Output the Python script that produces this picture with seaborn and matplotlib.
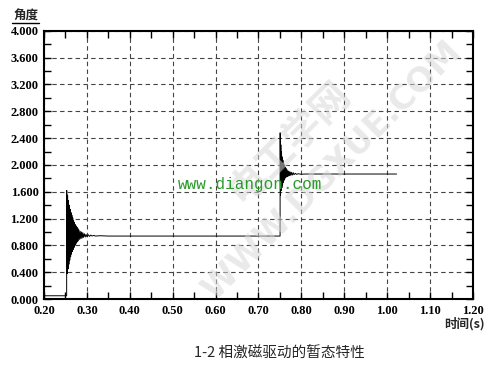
import numpy as np
import pandas as pd
import matplotlib
matplotlib.use("Agg")
import matplotlib.pyplot as plt
from matplotlib.lines import Line2D
from matplotlib.ticker import MultipleLocator, FormatStrFormatter
import seaborn as sns

# ---------------- data ----------------
pre_time = [0.200, 0.2528]
pre_angle = [0.05, 0.05]

burst1_time = [0.2530, 0.2540, 0.2550, 0.2560, 0.2570, 0.2580, 0.2590, 0.2600,
               0.2610, 0.2620, 0.2630, 0.2640, 0.2650, 0.2660, 0.2670, 0.2680,
               0.2690, 0.2700, 0.2710, 0.2720, 0.2730, 0.2740, 0.2750, 0.2760,
               0.2770, 0.2780, 0.2790, 0.2800, 0.2815, 0.2830, 0.2845, 0.2860,
               0.2875, 0.2890, 0.2905, 0.2920, 0.2940, 0.2960, 0.2980, 0.3000,
               0.3030, 0.3060, 0.3090, 0.3120, 0.3160, 0.3200, 0.3300, 0.3500]
burst1_angle = [1.62, 0.38, 1.55, 0.45, 1.47, 0.52, 1.40, 0.58,
                1.34, 0.63, 1.29, 0.67, 1.25, 0.71, 1.21, 0.74,
                1.17, 0.77, 1.14, 0.80, 1.11, 0.82, 1.09, 0.84,
                1.07, 0.86, 1.05, 0.87, 1.03, 0.89, 1.01, 0.90,
                1.00, 0.91, 0.99, 0.92, 0.975, 0.925, 0.965, 0.93,
                0.96, 0.935, 0.955, 0.94, 0.95, 0.94, 0.945, 0.94]

hold_time = [0.7503]
hold_angle = [0.94]

burst2_time = [0.7505, 0.7513, 0.7521, 0.7529, 0.7537, 0.7545, 0.7553, 0.7561,
               0.7569, 0.7577, 0.7585, 0.7593, 0.7601, 0.7610, 0.7620, 0.7630,
               0.7640, 0.7650, 0.7662, 0.7674, 0.7686, 0.7698, 0.7712, 0.7726,
               0.7740, 0.7755, 0.7770, 0.7790, 0.7810, 0.7830, 0.7860, 0.7890,
               0.7930, 0.7980, 0.8100]
burst2_angle = [2.48, 1.55, 2.30, 1.62, 2.20, 1.66, 2.12, 1.70,
                2.07, 1.74, 2.03, 1.77, 2.00, 1.79, 1.97, 1.81,
                1.95, 1.82, 1.93, 1.83, 1.915, 1.835, 1.905, 1.84,
                1.895, 1.845, 1.89, 1.85, 1.885, 1.855, 1.875, 1.86,
                1.87, 1.862, 1.865]

tail_time = [1.022]
tail_angle = [1.865]

x_ticks = [0.20, 0.30, 0.40, 0.50, 0.60, 0.70, 0.80, 0.90, 1.00, 1.10, 1.20]
y_ticks = [0.0, 0.4, 0.8, 1.2, 1.6, 2.0, 2.4, 2.8, 3.2, 3.6, 4.0]

df = pd.DataFrame({
    "time": pre_time + burst1_time + hold_time + burst2_time + tail_time,
    "angle": pre_angle + burst1_angle + hold_angle + burst2_angle + tail_angle,
})

# ---------------- figure ----------------
sns.set_theme(style="white")
plt.rcParams["font.family"] = ["Liberation Serif", "Noto Sans CJK SC", "DejaVu Sans"]

fig = plt.figure(figsize=(5.0, 3.67), dpi=100)
ax = fig.add_axes([0.088, 0.185, 0.858, 0.731])

# watermarks (behind everything)
fig.text(0.578, 0.615, "电工学网", rotation=45,
         fontsize=28, color="#d8d8d8", alpha=0.55, ha="center", va="center",
         family=["Noto Sans CJK SC"], fontweight="bold", zorder=0)
fig.text(0.665, 0.535, "WWW.DGXUE.COM", rotation=45, fontsize=24,
         color="#d8d8d8", alpha=0.55, ha="center", va="center",
         family=["DejaVu Sans"], fontweight="bold", zorder=0)
ax.patch.set_alpha(0.0)

sns.lineplot(data=df, x="time", y="angle", estimator=None, sort=False,
             color="black", linewidth=0.7, ax=ax)

ax.set_xlim(x_ticks[0], x_ticks[-1])
ax.set_ylim(y_ticks[0], y_ticks[-1])
ax.set_xticks(x_ticks)
ax.set_yticks(y_ticks)
ax.xaxis.set_major_formatter(FormatStrFormatter("%.2f"))
ax.yaxis.set_major_formatter(FormatStrFormatter("%.3f"))
ax.xaxis.set_minor_locator(MultipleLocator(0.05))
ax.yaxis.set_minor_locator(MultipleLocator(0.2))

ax.tick_params(axis="both", which="both", direction="in", colors="black",
               top=True, right=True, bottom=True, left=True)
ax.tick_params(which="major", length=5, width=1.0, labelsize=9, pad=4)
ax.tick_params(which="minor", length=5, width=1.0)
for lab in ax.get_xticklabels() + ax.get_yticklabels():
    lab.set_fontweight("bold")

ax.grid(True, which="major", linestyle=(0, (4, 3)), color="#444444", linewidth=0.8)
for sp in ax.spines.values():
    sp.set_color("black")
    sp.set_linewidth(1.5)

ax.set_xlabel("")
ax.set_ylabel("")

fig.text(0.356, 0.498, "www.diangon.com", fontsize=11.5, color="#2a9a2a",
         ha="left", va="center", family=["Liberation Mono"])

# axis titles
fig.text(0.052, 0.955, "角度", fontsize=9, ha="center", va="center",
         family=["Noto Sans CJK SC"], fontweight="bold")
fig.add_artist(Line2D([0.024, 0.078], [0.937, 0.937], color="black",
                      linewidth=1.0, transform=fig.transFigure))
fig.text(0.97, 0.117, "时间(s)", fontsize=9, ha="right", va="center",
         family=["Noto Sans CJK SC", "Liberation Serif"], fontweight="bold")
fig.text(0.559, 0.04, "1-2 相激磁驱动的暂态特性", fontsize=10.5, ha="center",
         va="center", family=["Noto Sans CJK SC"])

fig.savefig("out.png", dpi=100, facecolor="white")
